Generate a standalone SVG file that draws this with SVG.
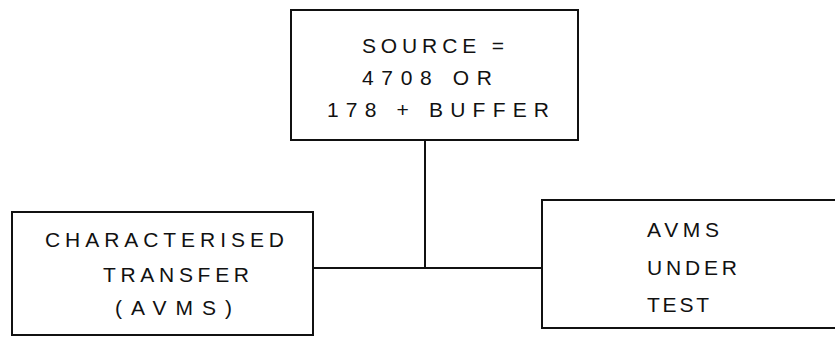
<svg xmlns="http://www.w3.org/2000/svg" width="835" height="337" viewBox="0 0 835 337">
<style>
.box{fill:#fff;stroke:#111;stroke-width:2}
.ln{stroke:#111;stroke-width:2;fill:none}
text{font-family:"Liberation Sans",Arial,sans-serif;font-size:21px;fill:#111}
</style>
<rect width="835" height="337" fill="#fff"/>
<g id="connectors">
<line class="ln" x1="425" y1="140" x2="425" y2="268"/>
<line class="ln" x1="313" y1="268" x2="542" y2="268"/>
</g>
<g id="source">
<rect class="box" x="291" y="10" width="287" height="130"/>
<text x="362" y="53" textLength="142" lengthAdjust="spacing">SOURCE =</text>
<text x="362" y="85" textLength="130" lengthAdjust="spacing">4708 OR</text>
<text x="327" y="117" textLength="222" lengthAdjust="spacing">178 + BUFFER</text>
</g>
<g id="characterised">
<rect class="box" x="12" y="212" width="301" height="123"/>
<text x="45" y="247" textLength="239" lengthAdjust="spacing">CHARACTERISED</text>
<text x="103" y="282" textLength="146" lengthAdjust="spacing">TRANSFER</text>
<text x="115" y="315" textLength="117" lengthAdjust="spacing">(AVMS)</text>
</g>
<g id="avms">
<rect class="box" x="542" y="200" width="310" height="128"/>
<text x="647" y="237" textLength="72" lengthAdjust="spacing">AVMS</text>
<text x="647" y="275" textLength="90" lengthAdjust="spacing">UNDER</text>
<text x="647" y="312" textLength="62" lengthAdjust="spacing">TEST</text>
</g>
</svg>
